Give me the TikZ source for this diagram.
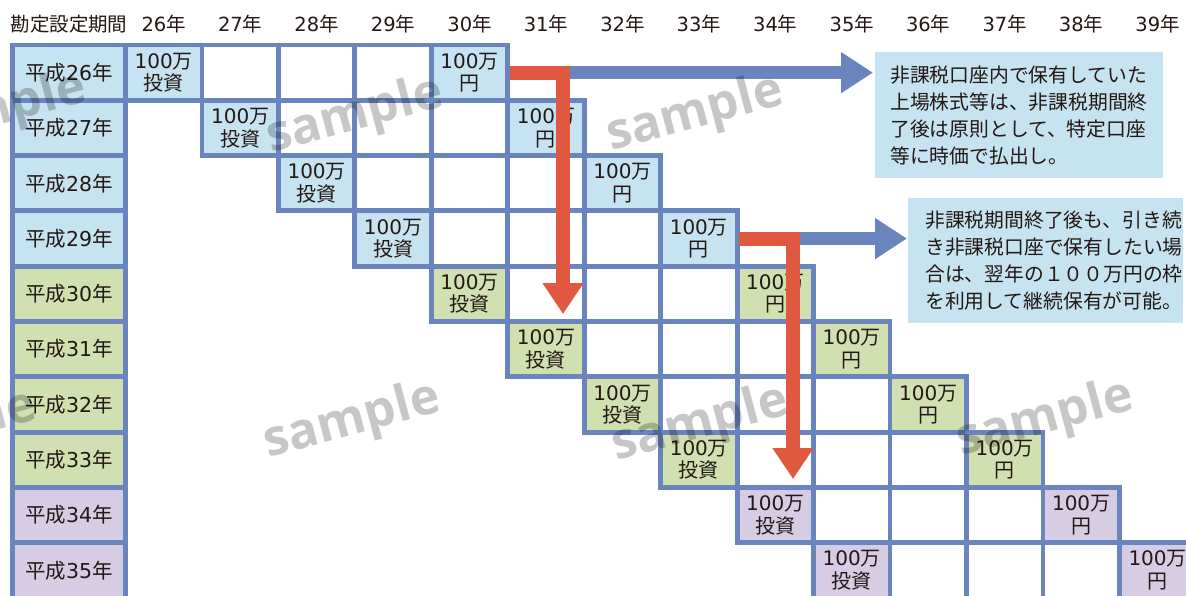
\documentclass[tikz,border=0pt]{standalone}
\usepackage{fontspec}
\setmainfont{Noto Sans CJK JP}
\newfontfamily\wmfont{Open Sans}
\newfontfamily\dg{DejaVu Sans}
\usetikzlibrary{arrows.meta}
\definecolor{gridblue}{HTML}{6A85BE}
\definecolor{cellblue}{HTML}{C5E3F0}
\definecolor{cellgreen}{HTML}{D0E0B0}
\definecolor{cellpurple}{HTML}{D6CCE4}
\definecolor{arrowred}{HTML}{E05840}
\definecolor{txt}{HTML}{231815}
\tikzset{
  gridline/.style={draw=gridblue, line width=4.8pt, line join=miter},
  cellnode/.style={rectangle, inner sep=0pt, minimum width=76.45pt, minimum height=55.3pt,
     align=center, text=txt, font=\fontsize{20}{22.5}\selectfont},
  lbl/.style={inner sep=0pt, text=txt, font=\fontsize{20.5}{22}\selectfont},
  hdr/.style={inner sep=0pt, text=txt, font=\fontsize{19.5}{22}\selectfont},
  redarrow/.style={draw=arrowred, line width=14pt, line join=miter,
     -{Triangle[width=39pt,length=31pt]}},
  bluearrow/.style={draw=gridblue, line width=13pt,
     -{Triangle[width=39pt,length=32pt]}},
  callout/.style={rectangle, fill=cellblue, inner sep=0pt, anchor=north west},
  callouttxt/.style={inner sep=0pt, anchor=west, align=left, text=txt,
     font=\fontsize{19.8}{27}\selectfont},
  wm/.style={inner sep=0pt, text=black, opacity=0.22, font=\wmfont\bfseries\fontsize{50}{50}\selectfont, rotate=15}
}
\begin{document}
\begin{tikzpicture}[x=1pt,y=-1pt]
\useasboundingbox (0,0) rectangle (1186,596);
\clip (0,0) rectangle (1186,596);
\fill[white] (0,0) rectangle (1186,596);

% header
\node[hdr] (H) at (69,24) {勘定設定期間};
\foreach \c/\yr in {0/26,1/27,2/28,3/29,4/30,5/31,6/32,7/33,8/34,9/35,10/36,11/37,12/38,13/39}
  \node[hdr] (Y\c) at ({125.5+76.45*(\c+0.5)},24) {{\dg\yr}年};

% fills
\foreach \i/\col in {0/cellblue,1/cellblue,2/cellblue,3/cellblue,4/cellgreen,5/cellgreen,6/cellgreen,7/cellgreen,8/cellpurple,9/cellpurple} {
  \fill[\col] (12.5,{45+55.3*\i}) rectangle (125.5,{45+55.3*(\i+1)});
  \fill[\col] ({125.5+76.45*\i},{45+55.3*\i}) rectangle ++(76.45,55.3);
  \fill[\col] ({125.5+76.45*(\i+4)},{45+55.3*\i}) rectangle ++(76.45,55.3);
}
% borders
\foreach \i in {0,...,9} {
  \draw[gridline] (12.5,{45+55.3*\i}) rectangle (125.5,{45+55.3*(\i+1)});
  \foreach \c in {0,...,4}
    \draw[gridline] ({125.5+76.45*(\i+\c)},{45+55.3*\i}) rectangle ++(76.45,55.3);
}
% texts
\foreach \i/\yr in {0/26,1/27,2/28,3/29,4/30,5/31,6/32,7/33,8/34,9/35} {
  \node[lbl] (L\i) at (69,{45+55.3*(\i+0.5)}) {平成{\dg\yr}年};
  \node[cellnode] (I\i) at ({125.5+76.45*(\i+0.5)},{45+55.3*(\i+0.5)}) {{\dg 100}万\\投資};
  \node[cellnode] (E\i) at ({125.5+76.45*(\i+4.5)},{45+55.3*(\i+0.5)}) {{\dg 100}万\\円};
}

% callouts
\node[callout, minimum width=288pt, minimum height=126pt] (C1) at (875,52) {};
\node[callouttxt] (T1) at ([xshift=15pt]C1.west) {非課税口座内で保有していた\\上場株式等は、非課税期間終\\了後は原則として、特定口座\\等に時価で払出し。};
\node[callout, minimum width=275pt, minimum height=125pt] (C2) at (908,198) {};
\node[callouttxt] (T2) at ([xshift=17pt]C2.west) {非課税期間終了後も、引き続\\き非課税口座で保有したい場\\合は、翌年の１００万円の枠\\を利用して継続保有が可能。};

% arrows
\coordinate (R1turn) at (563,{45+55.3*0.5});
\coordinate (R1tip) at (563,314);
\coordinate (B1tip) at (873,{45+55.3*0.5});
\coordinate (R2turn) at (793,{45+55.3*3.5});
\coordinate (R2tip) at (793,479);
\coordinate (B2tip) at (907,{45+55.3*3.5});
\draw[bluearrow] (R1turn) -- (B1tip);
\draw[bluearrow] (R2turn) -- (B2tip);
\draw[redarrow] ([xshift=2pt]E0.east) -- (R1turn) -- (R1tip);
\draw[redarrow] ([xshift=2pt]E3.east) -- (R2turn) -- (R2tip);

% watermarks
\node[wm] (W1) at (-2,112) {sample};
\node[wm] (W2) at (355,117) {sample};
\node[wm] (W3) at (695,115) {sample};
\node[wm] (W4) at (352,422) {sample};
\node[wm] (W5) at (700,425) {sample};
\node[wm] (W6) at (1045,420) {sample};
\node[wm] (W7) at (-52,430) {sample};
\end{tikzpicture}
\end{document}
